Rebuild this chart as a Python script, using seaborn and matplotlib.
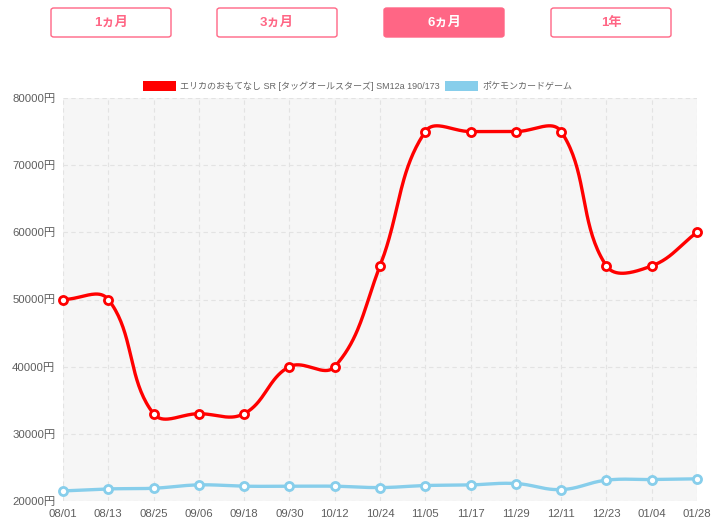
import numpy as np
import pandas as pd
import matplotlib
matplotlib.use("Agg")
import matplotlib.pyplot as plt
from matplotlib.patches import FancyBboxPatch, Rectangle
import seaborn as sns

dates = ["08/01", "08/13", "08/25", "09/06", "09/18", "09/30", "10/12", "10/24",
         "11/05", "11/17", "11/29", "12/11", "12/23", "01/04", "01/28"]
card_prices = [50000, 50000, 33000, 33000, 33000, 40000, 40000, 55000,
               75000, 75000, 75000, 75000, 55000, 55000, 60000]
game_prices = [21500, 21800, 21900, 22400, 22200, 22200, 22200, 22000,
               22300, 22400, 22600, 21700, 23100, 23200, 23300]
series_names = ["エリカのおもてなし SR [タッグオールスターズ] SM12a 190/173", "ポケモンカードゲーム"]
series_colors = ["#ff0000", "#87ceeb"]
yticks = [20000, 30000, 40000, 50000, 60000, 70000, 80000]
buttons = ["1ヵ月", "3ヵ月", "6ヵ月", "1年"]
active_button = 2

sns.set_theme(style="white")
plt.rcParams['font.family'] = ['Liberation Sans', 'Noto Sans CJK JP', 'DejaVu Sans']

W, H = 726, 531
fig = plt.figure(figsize=(W / 100, H / 100), dpi=100)
L, R, T, B = 63, 697, 98, 501
ax = fig.add_axes([L / W, (H - B) / H, (R - L) / W, (B - T) / H])
ax.set_facecolor("#f6f6f6")

n = len(dates)
xs = np.arange(n)
ymin, ymax = 20000, 80000
px_x = (R - L) / (n - 1)
px_y = (B - T) / (ymax - ymin)


def spline(ys, t=0.4, steps=40):
    pts = np.column_stack([xs * px_x, np.array(ys, float) * px_y])
    cps_prev, cps_next = [], []
    for i in range(n):
        prev = pts[i - 1] if i > 0 else pts[i]
        cur = pts[i]
        nxt = pts[i + 1] if i < n - 1 else pts[i]
        d01 = np.hypot(*(cur - prev))
        d12 = np.hypot(*(nxt - cur))
        tot = d01 + d12
        s01 = d01 / tot if tot else 0
        s12 = d12 / tot if tot else 0
        cps_prev.append(cur - t * s01 * (nxt - prev))
        cps_next.append(cur + t * s12 * (nxt - prev))
    out = []
    u = np.linspace(0, 1, steps)[:, None]
    for i in range(n - 1):
        p0, p1, p2, p3 = pts[i], cps_next[i], cps_prev[i + 1], pts[i + 1]
        seg = (1 - u) ** 3 * p0 + 3 * (1 - u) ** 2 * u * p1 + 3 * (1 - u) * u ** 2 * p2 + u ** 3 * p3
        out.append(seg if i == 0 else seg[1:])
    out = np.vstack(out)
    return out[:, 0] / px_x, out[:, 1] / px_y


for vals, color, z in [(game_prices, series_colors[1], 3), (card_prices, series_colors[0], 4)]:
    cx, cy = spline(vals)
    df = pd.DataFrame({"x": cx, "y": cy})
    sns.lineplot(data=df, x="x", y="y", sort=False, color=color, lw=2.4, ax=ax, zorder=z,
                 estimator=None)
    pdf = pd.DataFrame({"x": xs, "y": vals})
    sns.scatterplot(data=pdf, x="x", y="y", ax=ax, s=34, facecolor="white",
                    edgecolor=color, linewidth=2.0, zorder=z + 1, clip_on=False)

ax.set_xlim(0, n - 1)
ax.set_ylim(ymin, ymax)
ax.set_xticks(xs)
ax.set_xticklabels(dates)
ax.set_yticks(yticks)
ax.set_yticklabels([f"{v}円" for v in yticks])
ax.set_xlabel("")
ax.set_ylabel("")
ax.grid(True, color="#e3e3e3", linestyle=(0, (4, 3)), linewidth=0.8)
ax.set_axisbelow(True)
for s in ax.spines.values():
    s.set_visible(False)
ax.tick_params(axis="both", labelsize=8.2, colors="#e3e3e3", labelcolor="#5e5e5e", length=5, width=0.8, pad=1)
ax.tick_params(axis="y", length=5, pad=0.5)
ax.tick_params(axis="x", length=4, pad=2)

# legend
leg_y = 86
fig.patches.append(Rectangle((143 / W, 1 - 91 / H), 33 / W, 10 / H, transform=fig.transFigure,
                             facecolor=series_colors[0], edgecolor="none"))
fig.text(180 / W, 1 - leg_y / H, series_names[0], fontsize=6.5, color="#666666", va="center", ha="left")
fig.patches.append(Rectangle((445 / W, 1 - 91 / H), 33 / W, 10 / H, transform=fig.transFigure,
                             facecolor=series_colors[1], edgecolor="none"))
fig.text(482 / W, 1 - leg_y / H, series_names[1], fontsize=6.5, color="#666666", va="center", ha="left")

# buttons
pink = "#ff6685"
bx = [51, 217, 384, 551]
for i, (label, x0) in enumerate(zip(buttons, bx)):
    active = i == active_button
    fig.patches.append(FancyBboxPatch((x0 / W, 1 - 37 / H), 120 / W, 29 / H,
                                      boxstyle="round,pad=0,rounding_size=0.004",
                                      transform=fig.transFigure,
                                      facecolor=pink if active else "white",
                                      edgecolor=pink, linewidth=1.0))
    fig.text((x0 + 60) / W, 1 - 22.5 / H, label, fontsize=9.5, fontweight="bold",
             color="white" if active else pink, ha="center", va="center")

fig.savefig("out.png", dpi=100)
